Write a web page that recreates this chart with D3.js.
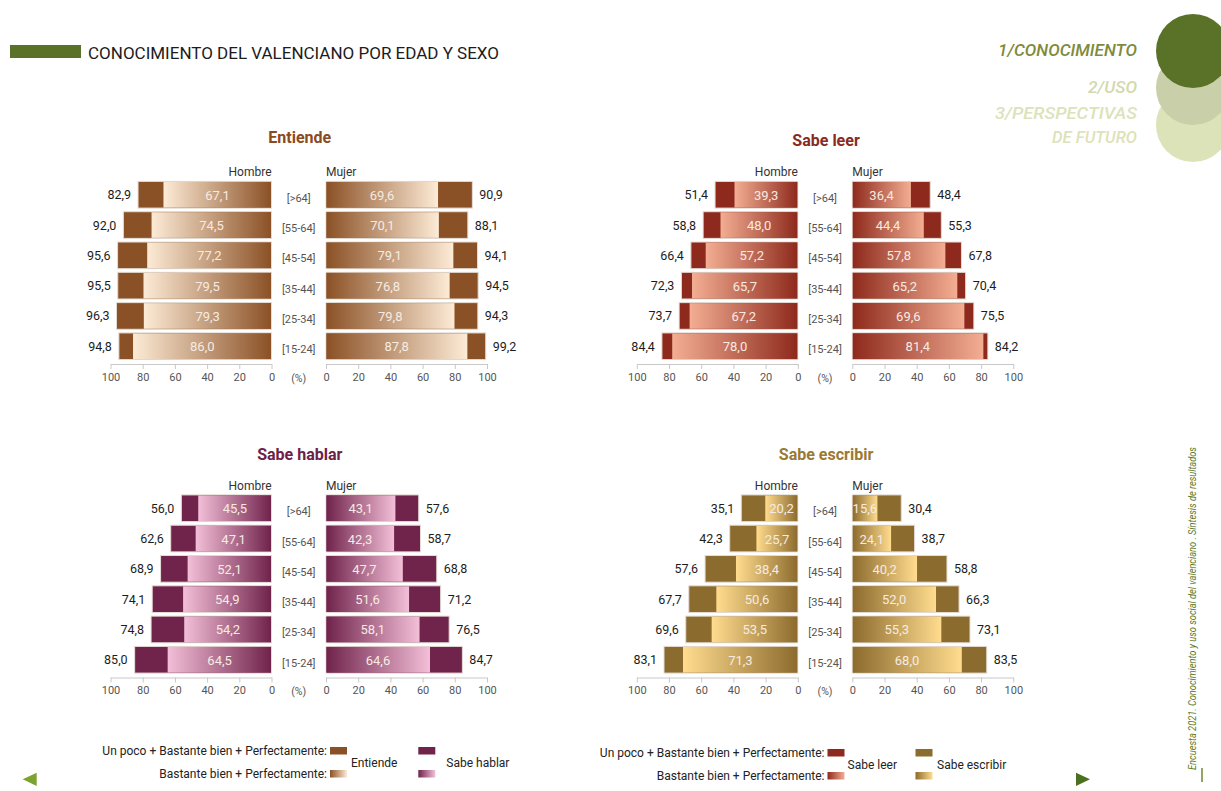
<!DOCTYPE html>
<html>
<head>
<meta charset="utf-8">
<script src="https://cdn.jsdelivr.net/npm/d3@7/dist/d3.min.js"></script>
<style>
  html, body { margin: 0; padding: 0; background: #fff; }
  svg { display: block; font-family: Roboto, "Liberation Sans", sans-serif; }
</style>
</head>
<body>
<svg id="chart" width="1221" height="791"></svg>
<script>
// Age groups, top row first
const ages = ["[>64]", "[55-64]", "[45-54]", "[35-44]", "[25-34]", "[15-24]"];
const ticks = [0, 20, 40, 60, 80, 100];

// Entiende
const entiendeHombreTotal = [82.9, 92.0, 95.6, 95.5, 96.3, 94.8];
const entiendeHombreBien  = [67.1, 74.5, 77.2, 79.5, 79.3, 86.0];
const entiendeMujerTotal  = [90.9, 88.1, 94.1, 94.5, 94.3, 99.2];
const entiendeMujerBien   = [69.6, 70.1, 79.1, 76.8, 79.8, 87.8];

// Sabe leer
const leerHombreTotal = [51.4, 58.8, 66.4, 72.3, 73.7, 84.4];
const leerHombreBien  = [39.3, 48.0, 57.2, 65.7, 67.2, 78.0];
const leerMujerTotal  = [48.4, 55.3, 67.8, 70.4, 75.5, 84.2];
const leerMujerBien   = [36.4, 44.4, 57.8, 65.2, 69.6, 81.4];

// Sabe hablar
const hablarHombreTotal = [56.0, 62.6, 68.9, 74.1, 74.8, 85.0];
const hablarHombreBien  = [45.5, 47.1, 52.1, 54.9, 54.2, 64.5];
const hablarMujerTotal  = [57.6, 58.7, 68.8, 71.2, 76.5, 84.7];
const hablarMujerBien   = [43.1, 42.3, 47.7, 51.6, 58.1, 64.6];

// Sabe escribir
const escribirHombreTotal = [35.1, 42.3, 57.6, 67.7, 69.6, 83.1];
const escribirHombreBien  = [20.2, 25.7, 38.4, 50.6, 53.5, 71.3];
const escribirMujerTotal  = [30.4, 38.7, 58.8, 66.3, 73.1, 83.5];
const escribirMujerBien   = [15.6, 24.1, 40.2, 52.0, 55.3, 68.0];

const panels = [
  { id: "ent", title: "Entiende", col: 0, row: 0, titleY: 143, dark: "#8B5126", light: "#FDEBD6", titleColor: "#8B4A1F",
    hT: entiendeHombreTotal, hB: entiendeHombreBien, mT: entiendeMujerTotal, mB: entiendeMujerBien },
  { id: "lee", title: "Sabe leer", col: 1, row: 0, titleY: 146, dark: "#8E2A1D", light: "#F3AE93", titleColor: "#8B2A1C",
    hT: leerHombreTotal, hB: leerHombreBien, mT: leerMujerTotal, mB: leerMujerBien },
  { id: "hab", title: "Sabe hablar", col: 0, row: 1, titleY: 146, dark: "#70234B", light: "#F3BFD8", titleColor: "#6E2148",
    hT: hablarHombreTotal, hB: hablarHombreBien, mT: hablarMujerTotal, mB: hablarMujerBien },
  { id: "esc", title: "Sabe escribir", col: 1, row: 1, titleY: 146, dark: "#8C6B2E", light: "#FFDC8E", titleColor: "#9A7A33",
    hT: escribirHombreTotal, hB: escribirHombreBien, mT: escribirMujerTotal, mB: escribirMujerBien }
];

const svg = d3.select("#chart");
const defs = svg.append("defs");
const fmt = v => d3.format(".1f")(v).replace(".", ",");

// Header: green bar and title
svg.append("rect").attr("x", 10).attr("y", 45).attr("width", 71).attr("height", 13).attr("fill", "#5A7228");
svg.append("text").attr("x", 88).attr("y", 58.5)
  .attr("font-size", 17).attr("fill", "#1c1c1c")
  .attr("textLength", 411).attr("lengthAdjust", "spacingAndGlyphs")
  .text("CONOCIMIENTO DEL VALENCIANO POR EDAD Y SEXO");

// Section navigation, top right
const navCircles = [
  { cy: 125, fill: "#DCE3B9" },
  { cy: 88, fill: "#C9D0A9" },
  { cy: 51, fill: "#5A7228" }
];
svg.selectAll("circle.nav").data(navCircles).join("circle")
  .attr("class", "nav").attr("cx", 1193).attr("cy", d => d.cy).attr("r", 37).attr("fill", d => d.fill);
const navText = [
  { t: "1/CONOCIMIENTO", y: 55.7, w: 139, c: "#7F8B3A" },
  { t: "2/USO", y: 92.7, w: 49, c: "#D3D8AE" },
  { t: "3/PERSPECTIVAS", y: 119, w: 142, c: "#DDE2B9" },
  { t: "DE FUTURO", y: 143.3, w: 85, c: "#DDE2B9" }
];
svg.selectAll("text.nav").data(navText).join("text")
  .attr("class", "nav").attr("x", 1137).attr("y", d => d.y)
  .attr("text-anchor", "end").attr("font-size", 17).attr("font-style", "italic").attr("font-weight", 500)
  .attr("fill", d => d.c).attr("textLength", d => d.w).attr("lengthAdjust", "spacingAndGlyphs")
  .text(d => d.t);

// Vertical source note on the right edge
svg.append("text")
  .attr("transform", "translate(1196,770) rotate(-90)")
  .attr("font-size", 10).attr("font-style", "italic").attr("fill", "#5E7A2A")
  .attr("textLength", 323).attr("lengthAdjust", "spacingAndGlyphs")
  .text("Encuesta 2021. Conocimiento y uso social del valenciano . Síntesis de resultados");
svg.append("line").attr("x1", 1202).attr("x2", 1202).attr("y1", 768).attr("y2", 782)
  .attr("stroke", "#6A8A2E").attr("stroke-width", 1.5);

// Page arrows
svg.append("path").attr("d", "M36.7,772.7 L22.7,779.3 L36.7,786 Z").attr("fill", "#7CA22F");
svg.append("path").attr("d", "M1076,772.7 L1090,779.3 L1076,786 Z").attr("fill", "#4B7020");

// Gradient for a bar: dark at the axis side, light at the outer end
function gradient(id, dark, light, darkOnLeft) {
  const g = defs.append("linearGradient").attr("id", id)
    .attr("x1", "0%").attr("x2", "100%").attr("y1", "0%").attr("y2", "0%");
  g.append("stop").attr("offset", "0%").attr("stop-color", darkOnLeft ? dark : light);
  g.append("stop").attr("offset", "100%").attr("stop-color", darkOnLeft ? light : dark);
}

panels.forEach(p => {
  const ox = p.col * 526.3;
  const oy = p.row * 313.5;
  const g = svg.append("g").attr("transform", `translate(${ox},${oy})`);

  gradient(p.id + "-h", p.dark, p.light, false);
  gradient(p.id + "-m", p.dark, p.light, true);
  gradient(p.id + "-leg", p.dark, p.light, true);

  const xH = d3.scaleLinear().domain([0, 100]).range([271.5, 110.5]);
  const xM = d3.scaleLinear().domain([0, 100]).range([326, 487]);
  const y = d3.scaleBand().domain(ages).range([179.6, 361.4]).paddingInner(0.12).paddingOuter(0.06);
  const mid = (271.5 + 326) / 2;

  g.append("text").attr("x", mid + 1).attr("y", p.titleY)
    .attr("text-anchor", "middle").attr("font-size", 16).attr("font-weight", 700)
    .attr("fill", p.titleColor).text(p.title);

  g.append("text").attr("x", 271.5).attr("y", 176).attr("text-anchor", "end")
    .attr("font-size", 12).attr("fill", "#333").text("Hombre");
  g.append("text").attr("x", 326).attr("y", 176).attr("text-anchor", "start")
    .attr("font-size", 12).attr("fill", "#333").text("Mujer");

  const rowsH = ages.map((a, i) => ({ age: a, total: p.hT[i], bien: p.hB[i] }));
  const rowsM = ages.map((a, i) => ({ age: a, total: p.mT[i], bien: p.mB[i] }));

  // Hombre side (grows to the left)
  g.selectAll("rect.hT").data(rowsH).join("rect").attr("class", "hT")
    .attr("x", d => xH(d.total)).attr("y", d => y(d.age))
    .attr("width", d => xH(0) - xH(d.total)).attr("height", y.bandwidth())
    .attr("fill", p.dark).attr("stroke", "#e4dcd4").attr("stroke-width", 1);
  g.selectAll("rect.hB").data(rowsH).join("rect").attr("class", "hB")
    .attr("x", d => xH(d.bien)).attr("y", d => y(d.age) + 0.5)
    .attr("width", d => xH(0) - xH(d.bien) - 0.5).attr("height", y.bandwidth() - 1)
    .attr("fill", `url(#${p.id}-h)`);
  g.selectAll("text.hTl").data(rowsH).join("text").attr("class", "hTl")
    .attr("x", d => xH(d.total) - 7).attr("y", d => y(d.age) + y.bandwidth() / 2 + 4.5)
    .attr("text-anchor", "end").attr("font-size", 12.5).attr("fill", "#1c1c1c")
    .text(d => fmt(d.total));
  g.selectAll("text.hBl").data(rowsH).join("text").attr("class", "hBl")
    .attr("x", d => (xH(d.bien) + xH(0)) / 2).attr("y", d => y(d.age) + y.bandwidth() / 2 + 5)
    .attr("text-anchor", "middle").attr("font-size", 13).attr("fill", "#F6EBE2")
    .text(d => fmt(d.bien));

  // Mujer side (grows to the right)
  g.selectAll("rect.mT").data(rowsM).join("rect").attr("class", "mT")
    .attr("x", xM(0)).attr("y", d => y(d.age))
    .attr("width", d => xM(d.total) - xM(0)).attr("height", y.bandwidth())
    .attr("fill", p.dark).attr("stroke", "#e4dcd4").attr("stroke-width", 1);
  g.selectAll("rect.mB").data(rowsM).join("rect").attr("class", "mB")
    .attr("x", xM(0) + 0.5).attr("y", d => y(d.age) + 0.5)
    .attr("width", d => xM(d.bien) - xM(0) - 0.5).attr("height", y.bandwidth() - 1)
    .attr("fill", `url(#${p.id}-m)`);
  g.selectAll("text.mTl").data(rowsM).join("text").attr("class", "mTl")
    .attr("x", d => xM(d.total) + 7).attr("y", d => y(d.age) + y.bandwidth() / 2 + 4.5)
    .attr("text-anchor", "start").attr("font-size", 12.5).attr("fill", "#1c1c1c")
    .text(d => fmt(d.total));
  g.selectAll("text.mBl").data(rowsM).join("text").attr("class", "mBl")
    .attr("x", d => (xM(d.bien) + xM(0)) / 2).attr("y", d => y(d.age) + y.bandwidth() / 2 + 5)
    .attr("text-anchor", "middle").attr("font-size", 13).attr("fill", "#F6EBE2")
    .text(d => fmt(d.bien));

  // Age group labels
  g.selectAll("text.age").data(ages).join("text").attr("class", "age")
    .attr("x", mid).attr("y", d => y(d) + y.bandwidth() / 2 + 7)
    .attr("text-anchor", "middle").attr("font-size", 11).attr("fill", "#555")
    .text(d => d);

  // Axes
  const axisY = 364;
  [xH, xM].forEach(sc => {
    const ax = g.append("g").attr("transform", `translate(0,${axisY})`)
      .call(d3.axisBottom(sc).tickValues(ticks).tickSize(5).tickSizeOuter(0).tickPadding(4));
    ax.select(".domain").attr("stroke", "#c8c8c8");
    ax.selectAll(".tick line").attr("stroke", "#c8c8c8");
    ax.selectAll(".tick text").attr("font-size", 11).attr("fill", "#555")
      .attr("font-family", "Roboto, sans-serif");
  });
  g.append("text").attr("x", mid).attr("y", axisY + 17.5).attr("text-anchor", "middle")
    .attr("font-size", 10.5).attr("fill", "#555").text("(%)");
});

// Legends
function legendBlock(x0, y0, a, b) {
  const lg = svg.append("g");
  lg.append("text").attr("x", x0 - 3).attr("y", y0 + 8).attr("text-anchor", "end")
    .attr("font-size", 12).attr("fill", "#222").text("Un poco + Bastante bien + Perfectamente:");
  lg.append("text").attr("x", x0 - 3).attr("y", y0 + 30.5).attr("text-anchor", "end")
    .attr("font-size", 12).attr("fill", "#222").text("Bastante bien + Perfectamente:");
  [a, b].forEach(item => {
    lg.append("rect").attr("x", x0 + item.dx).attr("y", y0).attr("width", 17).attr("height", 7.5)
      .attr("fill", item.p.dark);
    lg.append("rect").attr("x", x0 + item.dx).attr("y", y0 + 23).attr("width", 17).attr("height", 7.5)
      .attr("fill", `url(#${item.p.id}-leg)`);
    lg.append("text").attr("x", x0 + item.dx + item.tdx).attr("y", y0 + 19.5)
      .attr("font-size", 12).attr("fill", "#222").text(item.p.title);
  });
}
legendBlock(330, 747, { p: panels[0], dx: 0, tdx: 21 }, { p: panels[2], dx: 88.3, tdx: 28 });
legendBlock(827.5, 749, { p: panels[1], dx: 0, tdx: 20 }, { p: panels[3], dx: 88, tdx: 21.5 });
</script>
</body>
</html>
